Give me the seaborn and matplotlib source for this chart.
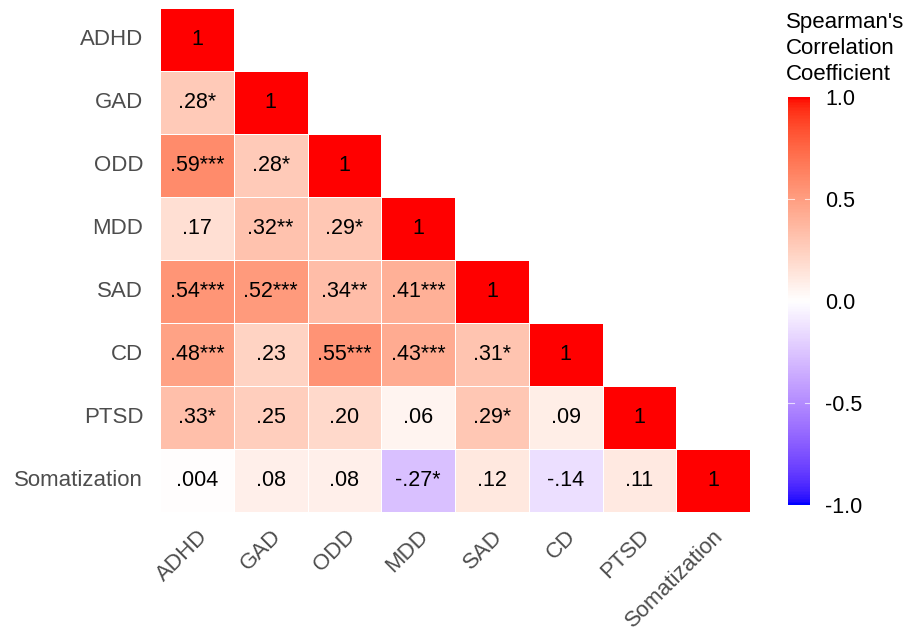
import numpy as np
import pandas as pd
import matplotlib
matplotlib.use("Agg")
import matplotlib.pyplot as plt
import seaborn as sns
from matplotlib.colors import LinearSegmentedColormap, to_rgb

# ---------------- data ----------------
variables = ["ADHD", "GAD", "ODD", "MDD", "SAD", "CD", "PTSD", "Somatization"]

row_ADHD = [1]
row_GAD = [0.28, 1]
row_ODD = [0.59, 0.28, 1]
row_MDD = [0.17, 0.32, 0.29, 1]
row_SAD = [0.54, 0.52, 0.34, 0.41, 1]
row_CD = [0.48, 0.23, 0.55, 0.43, 0.31, 1]
row_PTSD = [0.33, 0.25, 0.20, 0.06, 0.29, 0.09, 1]
row_Som = [0.004, 0.08, 0.08, -0.27, 0.12, -0.14, 0.11, 1]

lab_ADHD = ["1"]
lab_GAD = [".28*", "1"]
lab_ODD = [".59***", ".28*", "1"]
lab_MDD = [".17", ".32**", ".29*", "1"]
lab_SAD = [".54***", ".52***", ".34**", ".41***", "1"]
lab_CD = [".48***", ".23", ".55***", ".43***", ".31*", "1"]
lab_PTSD = [".33*", ".25", ".20", ".06", ".29*", ".09", "1"]
lab_Som = [".004", ".08", ".08", "-.27*", ".12", "-.14", ".11", "1"]

colorbar_ticks = [-1.0, -0.5, 0.0, 0.5, 1.0]
colorbar_title = "Spearman's\nCorrelation\nCoefficient"

rows = [row_ADHD, row_GAD, row_ODD, row_MDD, row_SAD, row_CD, row_PTSD, row_Som]
labs = [lab_ADHD, lab_GAD, lab_ODD, lab_MDD, lab_SAD, lab_CD, lab_PTSD, lab_Som]

n = len(variables)
vals = np.full((n, n), np.nan)
annot = np.full((n, n), "", dtype=object)
for i, (r, l) in enumerate(zip(rows, labs)):
    for j, (v, s) in enumerate(zip(r, l)):
        vals[i, j] = v
        annot[i, j] = s
df = pd.DataFrame(vals, index=variables, columns=variables)
mask = np.isnan(vals)

# ---------------- colormap (Lab interpolation like ggplot gradient2) ----------------
def srgb_to_lab(c):
    c = np.array(c, dtype=float)
    lin = np.where(c <= 0.04045, c / 12.92, ((c + 0.055) / 1.055) ** 2.4)
    M = np.array([[0.4124, 0.3576, 0.1805],
                  [0.2126, 0.7152, 0.0722],
                  [0.0193, 0.1192, 0.9505]])
    xyz = M @ lin
    xyz = xyz / np.array([0.95047, 1.0, 1.08883])
    f = np.where(xyz > 0.008856, np.cbrt(xyz), 7.787 * xyz + 16 / 116)
    return np.array([116 * f[1] - 16, 500 * (f[0] - f[1]), 200 * (f[1] - f[2])])

def lab_to_srgb(lab):
    L, a, b = lab
    fy = (L + 16) / 116
    fx = fy + a / 500
    fz = fy - b / 200
    f = np.array([fx, fy, fz])
    xyz = np.where(f ** 3 > 0.008856, f ** 3, (f - 16 / 116) / 7.787)
    xyz = xyz * np.array([0.95047, 1.0, 1.08883])
    Minv = np.array([[3.2406, -1.5372, -0.4986],
                     [-0.9689, 1.8758, 0.0415],
                     [0.0557, -0.2040, 1.0570]])
    lin = Minv @ xyz
    lin = np.clip(lin, 0, 1)
    c = np.where(lin <= 0.0031308, 12.92 * lin, 1.055 * lin ** (1 / 2.4) - 0.055)
    return np.clip(c, 0, 1)

lab_blue = srgb_to_lab(to_rgb("blue"))
lab_white = srgb_to_lab(to_rgb("white"))
lab_red = srgb_to_lab(to_rgb("red"))
stops = []
for t in np.linspace(0, 1, 128):
    if t <= 0.5:
        u = t / 0.5
        lab = lab_blue + (lab_white - lab_blue) * u
    else:
        u = (t - 0.5) / 0.5
        lab = lab_white + (lab_red - lab_white) * u
    stops.append((t, tuple(lab_to_srgb(lab))))
cmap = LinearSegmentedColormap.from_list("bwr_lab", stops, N=256)

# ---------------- plot ----------------
plt.rcParams["font.family"] = ["Liberation Sans", "DejaVu Sans"]

fig = plt.figure(figsize=(9.11, 6.33), dpi=100)
ax = fig.add_axes([160 / 911, 1 - 512 / 633, 590 / 911, 504 / 633])
cax = fig.add_axes([788 / 911, 1 - 505 / 633, 22 / 911, 408 / 633])

sns.heatmap(df, mask=mask, cmap=cmap, vmin=-1, vmax=1, annot=annot, fmt="",
            annot_kws={"fontsize": 15.5, "color": "black"},
            linewidths=0.4, linecolor="white", square=False,
            ax=ax, cbar_ax=cax,
            cbar_kws={"ticks": colorbar_ticks})

ax.set_xlabel("")
ax.set_ylabel("")
ax.tick_params(axis="both", length=0, labelsize=16, labelcolor="#4D4D4D")
ax.tick_params(axis="y", pad=12)
ax.tick_params(axis="x", pad=10)
plt.setp(ax.get_yticklabels(), rotation=0, ha="right")
plt.setp(ax.get_xticklabels(), rotation=45, ha="right", rotation_mode="anchor")

cbar = ax.collections[0].colorbar
cbar.outline.set_visible(False)
cbar.ax.tick_params(length=0, labelsize=15.5, labelcolor="black", pad=11)
cbar.ax.set_yticklabels([f"{t:.1f}" for t in colorbar_ticks])
for t in colorbar_ticks[1:-1]:
    cbar.ax.plot([0, 0.25], [t, t], color="white", lw=0.8, alpha=0.7,
                 transform=cbar.ax.get_yaxis_transform())
    cbar.ax.plot([0.75, 1], [t, t], color="white", lw=0.8, alpha=0.7,
                 transform=cbar.ax.get_yaxis_transform())

fig.text(786 / 911, 1 - 12 / 633, colorbar_title, ha="left", va="top",
         fontsize=16, color="black", linespacing=1.32)

fig.savefig("out.png", dpi=100, facecolor="white")
